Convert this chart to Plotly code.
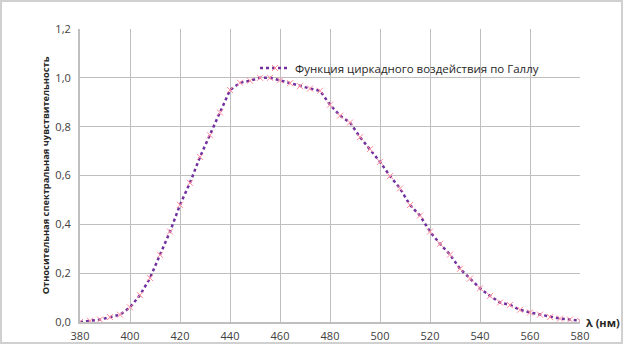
import plotly.graph_objects as go

wavelength = [380, 384, 388, 392, 396, 400, 404, 408, 412, 416, 420, 424, 428, 432, 436,
              440, 444, 448, 452, 456, 460, 464, 468, 472, 476, 480, 484, 488, 492, 496,
              500, 504, 508, 512, 516, 520, 524, 528, 532, 536, 540, 544, 548, 552, 556,
              560, 564, 568, 572, 576, 580]
sensitivity = [0.0, 0.005, 0.01, 0.02, 0.03, 0.06, 0.11, 0.18, 0.275, 0.37, 0.48, 0.57, 0.676,
               0.765, 0.858, 0.95, 0.98, 0.988, 1.0, 1.0, 0.99, 0.978, 0.966, 0.956, 0.947,
               0.89, 0.845, 0.817, 0.757, 0.708, 0.656, 0.598, 0.547, 0.479, 0.436, 0.37,
               0.32, 0.276, 0.218, 0.178, 0.138, 0.107, 0.08, 0.07, 0.05, 0.039, 0.03, 0.02,
               0.014, 0.01, 0.005]
series_name = "Функция циркадного воздействия по Галлу"
y_title = "Относительная спектральная чувствительность"
x_title = "λ (нм)"

W, H = 624, 346
ML, MR, MT, MB = 80, 44, 29, 24
PW, PH = W - ML - MR, H - MT - MB

fig = go.Figure()
fig.add_trace(go.Scatter(
    x=wavelength, y=sensitivity, name=series_name,
    mode="lines+markers",
    line=dict(color="#7030A0", width=2.5, dash="dot"),
    marker=dict(symbol="x-thin", size=6, line=dict(color="#FF8A9A", width=1), color="#FF8A9A"),
))

font_family = "Open Sans, Liberation Sans, sans-serif"
fig.update_layout(
    width=W, height=H,
    margin=dict(l=ML, r=MR, t=MT, b=MB, autoexpand=False),
    paper_bgcolor="white", plot_bgcolor="white",
    separators=", ",
    font=dict(family=font_family, size=11, color="#404040"),
    showlegend=True,
    legend=dict(x=(255 - ML) / PW, y=(H - MB - 68) / PH, xanchor="left", yanchor="middle",
                bgcolor="rgba(0,0,0,0)", font=dict(size=11.5, color="#262626"),
                itemwidth=30),
    xaxis=dict(range=[380, 580], dtick=20, tick0=380, showgrid=True, gridcolor="#BFBFBF",
               gridwidth=1, zeroline=False, showline=True, linecolor="#BFBFBF", linewidth=2,
               ticks="outside", ticklen=3, tickcolor="rgba(0,0,0,0)",
               tickfont=dict(size=11, color="#404040"), automargin=False),
    yaxis=dict(range=[0, 1.2], dtick=0.2, tickformat=".1f", showgrid=True, gridcolor="#BFBFBF",
               gridwidth=1, zeroline=False, showline=True, linecolor="#BFBFBF", linewidth=2,
               ticks="outside", ticklen=5, tickcolor="rgba(0,0,0,0)",
               tickfont=dict(size=11, color="#404040"), automargin=False,
               title=dict(text="<b>" + y_title + "</b>", font=dict(size=9.3, color="#262626"),
                          standoff=4)),
)

fig.add_annotation(x=1.008, y=0, xref="paper", yref="paper", xanchor="left", yanchor="middle",
                   text="<b>" + x_title + "</b>", showarrow=False,
                   font=dict(size=11, color="#262626"))

# chart border
fig.add_shape(type="rect", xref="paper", yref="paper",
              x0=(1 - ML) / PW, x1=(622 - ML) / PW,
              y0=(H - MB - 343) / PH, y1=(H - MB - 1) / PH,
              line=dict(color="#D0D0D0", width=2), layer="below")

fig.write_html("out.html")
